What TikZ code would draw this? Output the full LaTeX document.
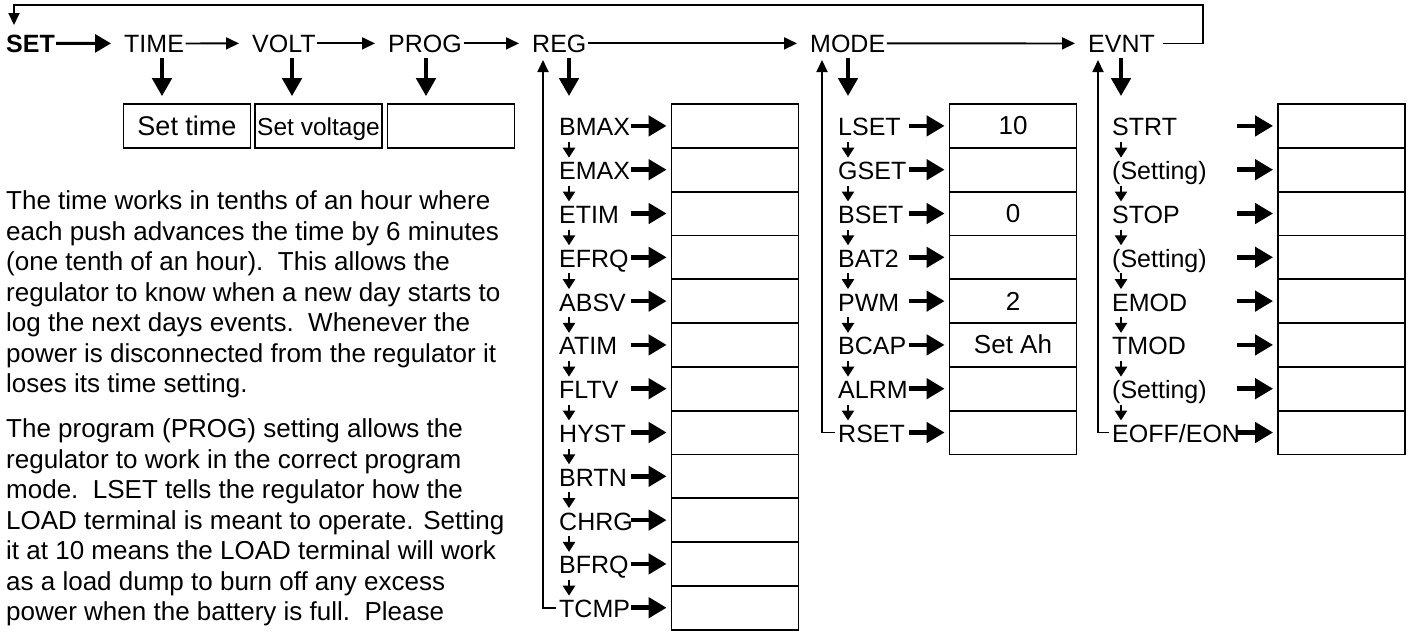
\documentclass[tikz,border=0pt]{standalone}
\usepackage{fontspec}
\setmainfont{Liberation Sans}
\usetikzlibrary{arrows.meta, calc, positioning}
\tikzset{
  mainword/.style={
    font=\fontsize{25}{30}\selectfont, inner sep=0pt, anchor=base west
  },
  itemword/.style={
    font=\fontsize{25}{30}\selectfont, inner sep=0pt, anchor=base west
  },
  paraline/.style={
    font=\fontsize{26}{30}\selectfont, inner sep=0pt, anchor=base west
  },
  valbox/.style={
    draw, line width=1.8pt, minimum width=127pt, minimum height=43.8pt,
    inner sep=0pt, text height=19pt, text depth=1pt,
    font=\fontsize{26}{30}\selectfont
  },
  flowarrow/.style={-{Triangle[length=13pt,width=12pt]}, line width=1.8pt},
  setarrow/.style={-{Triangle[length=16pt,width=18pt]}, line width=3pt},
  downarrow/.style={-{Triangle[length=18pt,width=19pt]}, line width=4.8pt},
  itemarrow/.style={-{Triangle[length=18pt,width=20pt]}, line width=4.5pt},
  steparrow/.style={-{Triangle[length=10pt,width=12pt]}, line width=2.5pt},
  looparrow/.style={-{Triangle[length=12pt,width=11pt]}, line width=1.8pt},
}

\begin{document}
\begin{tikzpicture}[x=1pt, y=-1pt]
  \path[fill=white, use as bounding box] (0,0) rectangle (1409,632);

  % ── Main menu row ──────────────────────────────────────────────
  \node[mainword, font=\fontsize{25}{30}\selectfont\bfseries] (set) at (6,52) {SET};
  \node[mainword] (time) at (124,52) {TIME};
  \node[mainword] (volt) at (252,52) {VOLT};
  \node[mainword] (prog) at (388,52) {PROG};
  \node[mainword] (reg)  at (532,52) {REG};
  \node[mainword] (mode) at (810,52) {MODE};
  \node[mainword] (evnt) at (1088,52) {EVNT};

  \draw[setarrow, shorten <=1pt, shorten >=13pt] (set.east) -- (time.west);
  \foreach \a/\b in {time/volt, volt/prog, prog/reg, reg/mode, mode/evnt}
    \draw[flowarrow, shorten <=1.5pt, shorten >=13pt] (\a.east) -- (\b.west);

  % loop back to SET
  \coordinate (loopne) at (1203,5);
  \coordinate (settip) at (14,25);
  \draw[looparrow] ([xshift=8pt]evnt.east) -| (loopne) -| (settip);

  % ── Top row boxes ──────────────────────────────────────────────
  \node[valbox, font=\fontsize{27}{30}\selectfont] (settime) at (187,126) {Set time};
  \node[valbox, font=\fontsize{24.5}{30}\selectfont] (setvolt) at (318.5,126) {Set voltage};
  \node[valbox] (progbox) at (451,126) {};

  % ── REG column ─────────────────────────────────────────────────
  \foreach \lab [count=\i] in {BMAX,EMAX,ETIM,EFRQ,ABSV,ATIM,FLTV,HYST,BRTN,CHRG,BFRQ,TCMP} {
    \pgfmathsetmacro{\yc}{104+43.8*(\i-0.5)}
    \node[valbox] (regb\i) at (735,\yc) {};
    \node[itemword] (regl\i) at (559,\yc+10) {\lab};
    \draw[itemarrow] ([xshift=-40pt]regb\i.west) -- ([xshift=-4pt]regb\i.west);
  }

  % ── MODE column ────────────────────────────────────────────────
  \foreach \lab/\val [count=\i] in {LSET/10, GSET/{}, BSET/0, BAT2/{}, PWM/2, BCAP/Set Ah, ALRM/{}, RSET/{}} {
    \pgfmathsetmacro{\yc}{104+43.8*(\i-0.5)}
    \node[valbox] (modeb\i) at (1013,\yc) {\val};
    \node[itemword] (model\i) at (838,\yc+10) {\lab};
    \draw[itemarrow] ([xshift=-40pt]modeb\i.west) -- ([xshift=-4pt]modeb\i.west);
  }

  % ── EVNT column ────────────────────────────────────────────────
  \foreach \lab [count=\i] in {STRT,(Setting),STOP,(Setting),EMOD,TMOD,(Setting),EOFF/EON} {
    \pgfmathsetmacro{\yc}{104+43.8*(\i-0.5)}
    \node[valbox] (evntb\i) at (1341.5,\yc) {};
    \node[itemword] (evntl\i) at (1112,\yc+10) {\lab};
    \draw[itemarrow] ([xshift=-40pt]evntb\i.west) -- ([xshift=-4pt]evntb\i.west);
  }

  % ── Down arrows from the menu row ──────────────────────────────
  \coordinate (timedn) at (162,58);
  \coordinate (voltdn) at (292,58);
  \coordinate (progdn) at (426,58);
  \coordinate (regdn)  at (569,58);
  \coordinate (modedn) at (848,58);
  \coordinate (evntdn) at (1121,58);
  \foreach \c/\b in {timedn/settime, voltdn/setvolt, progdn/progbox,
                     regdn/regb1, modedn/modeb1, evntdn/evntb1}
    \draw[downarrow, shorten >=7pt] (\c) -- (\c |- \b.north);

  % steps inside each column
  \foreach \i [evaluate=\i as \j using int(\i+1)] in {1,...,11}
    \draw[steparrow] ($(regdn |- regb\i.center)+(0,16)$) -- ($(regdn |- regb\j.center)+(0,-12)$);
  \foreach \i [evaluate=\i as \j using int(\i+1)] in {1,...,7} {
    \draw[steparrow] ($(modedn |- modeb\i.center)+(0,16)$) -- ($(modedn |- modeb\j.center)+(0,-12)$);
    \draw[steparrow] ($(evntdn |- evntb\i.center)+(0,16)$) -- ($(evntdn |- evntb\j.center)+(0,-12)$);
  }

  % return lines up to the menu row
  \coordinate (regup)  at (543,60);
  \coordinate (modeup) at (822,60);
  \coordinate (evntup) at (1098,60);
  \draw[looparrow, shorten <=3pt] (regl12.west |- regb12.center) -| (regup);
  \draw[looparrow, shorten <=3pt] (model8.west |- modeb8.center) -| (modeup);
  \draw[looparrow, shorten <=3pt] (evntl8.west |- evntb8.center) -| (evntup);

  % ── Notes text ─────────────────────────────────────────────────
  \foreach \ln [count=\k] in {
      The time works in tenths of an hour where,
      each push advances the time by 6 minutes,
      (one tenth of an hour).\ \ This allows the,
      regulator to know when a new day starts to,
      log the next days events.\ \ Whenever the,
      power is disconnected from the regulator it,
      loses its time setting.}
    \node[paraline] (parta\k) at (6,{209.5+30.5*(\k-1)}) {\ln};
  \foreach \ln [count=\k] in {
      The program (PROG) setting allows the,
      regulator to work in the correct program,
      mode.\ \ LSET tells the regulator how the,
      LOAD terminal is meant to operate. Setting,
      it at 10 means the LOAD terminal will work,
      as a load dump to burn off any excess,
      power when the battery is full.\ \ Please}
    \node[paraline] (partb\k) at (6,{437.5+30.5*(\k-1)}) {\ln};
\end{tikzpicture}
\end{document}
